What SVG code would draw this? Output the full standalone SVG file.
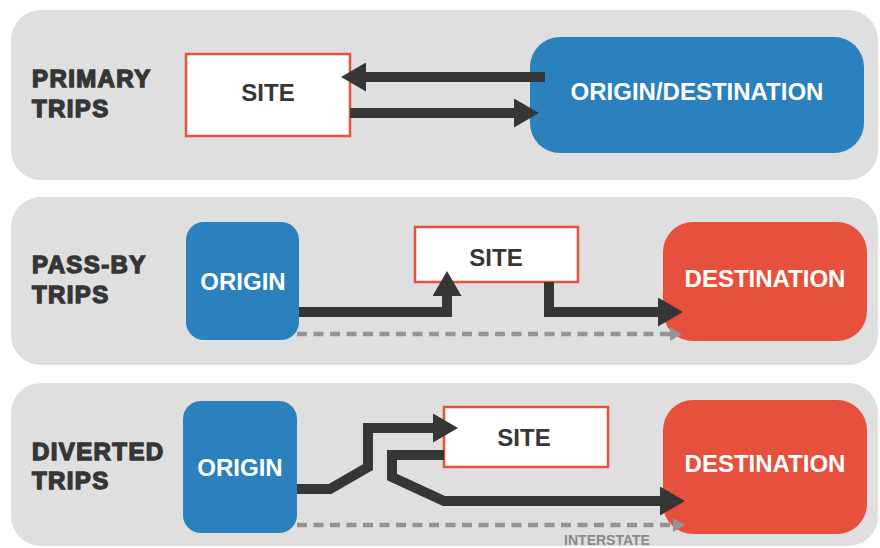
<svg xmlns="http://www.w3.org/2000/svg" width="880" height="548" viewBox="0 0 880 548">
  <style>
    .panel { fill: #dfdfdf; }
    .site { fill: #ffffff; stroke: #e8513e; stroke-width: 2.5; }
    .blue { fill: #2b81bd; }
    .red { fill: #e8503e; }
    .txt { font-family: "Liberation Sans", Arial, sans-serif; font-weight: bold; font-size: 24px; text-anchor: middle; }
    .dark { fill: #363636; }
    .white { fill: #ffffff; }
    .label { font-family: "Liberation Sans", Arial, sans-serif; font-weight: bold; font-size: 24px; fill: #363636; stroke: #363636; stroke-width: 1.4; letter-spacing: 1.4px; }
    .flow { fill: none; stroke: #363636; stroke-width: 10; stroke-linejoin: miter; stroke-miterlimit: 10; }
    .dash { fill: none; stroke: #949494; stroke-width: 4.5; stroke-dasharray: 10 6.5; }
    .note { font-family: "Liberation Sans", Arial, sans-serif; font-weight: bold; font-size: 14px; fill: #8a8a8a; text-anchor: middle; }
  </style>
  <defs>
    <marker id="ah" viewBox="0 0 25 29" refX="0" refY="14.5" markerWidth="25" markerHeight="29" markerUnits="userSpaceOnUse" orient="auto">
      <path d="M0,0 L25,14.5 L0,29 Z" fill="#363636"/>
    </marker>
    <marker id="ahg" viewBox="0 0 12 14" refX="0" refY="7" markerWidth="12" markerHeight="14" markerUnits="userSpaceOnUse" orient="auto">
      <path d="M0,0 L12,7 L0,14 Z" fill="#949494"/>
    </marker>
  </defs>
  <rect width="880" height="548" fill="#ffffff"/>

  <g id="panel-primary">
    <rect class="panel" x="11" y="10" width="867" height="170" rx="30"/>
    <text class="label" x="32" y="87">PRIMARY</text>
    <text class="label" x="32" y="117">TRIPS</text>
  </g>
  <g id="panel-passby">
    <rect class="panel" x="11" y="197" width="867" height="168" rx="30"/>
    <text class="label" x="32" y="273">PASS-BY</text>
    <text class="label" x="32" y="303">TRIPS</text>
  </g>
  <g id="panel-diverted">
    <rect class="panel" x="11" y="383" width="867" height="163" rx="30"/>
    <text class="label" x="32" y="460">DIVERTED</text>
    <text class="label" x="32" y="489">TRIPS</text>
  </g>

  <g id="site-1">
    <rect class="site" x="186" y="54" width="164" height="82"/>
    <text class="txt dark" x="268" y="101">SITE</text>
  </g>
  <g id="origin-destination-1">
    <rect class="blue" x="530" y="37" width="334" height="116" rx="30"/>
    <text class="txt white" x="697" y="100">ORIGIN/DESTINATION</text>
  </g>

  <g id="origin-2">
    <rect class="blue" x="186" y="222" width="113" height="118" rx="18"/>
    <text class="txt white" x="243" y="290">ORIGIN</text>
  </g>
  <g id="site-2">
    <rect class="site" x="415" y="227" width="163" height="55"/>
    <text class="txt dark" x="496" y="266">SITE</text>
  </g>
  <g id="destination-2">
    <rect class="red" x="663" y="222" width="204" height="119" rx="30"/>
    <text class="txt white" x="765" y="287">DESTINATION</text>
  </g>

  <g id="origin-3">
    <rect class="blue" x="183" y="401" width="114" height="132" rx="18"/>
    <text class="txt white" x="240" y="476">ORIGIN</text>
  </g>
  <g id="site-3">
    <rect class="site" x="444" y="407" width="164" height="60"/>
    <text class="txt dark" x="524" y="446">SITE</text>
  </g>
  <g id="destination-3">
    <rect class="red" x="663" y="400" width="204" height="134" rx="30"/>
    <text class="txt white" x="765" y="472">DESTINATION</text>
  </g>

  <g id="connectors">
    <path class="flow" d="M545,77 L366,77" marker-end="url(#ah)"/>
    <path class="flow" d="M350,113 L514,113" marker-end="url(#ah)"/>

    <path class="dash" d="M297,334 L670,334" marker-end="url(#ahg)"/>
    <path class="flow" d="M299,312 L447,312 L447,296" marker-end="url(#ah)"/>
    <path class="flow" d="M549,282 L549,312 L658,312" marker-end="url(#ah)"/>

    <path class="dash" d="M297,525 L673,525" marker-end="url(#ahg)"/>
    <path class="flow" d="M297,489 L330,489 L368,467 L368,428 L433,428" marker-end="url(#ah)"/>
    <path class="flow" d="M444,455 L392,455 L392,477 L444,501 L660,501" marker-end="url(#ah)"/>
    <text class="note" x="607" y="545">INTERSTATE</text>
  </g>
</svg>
